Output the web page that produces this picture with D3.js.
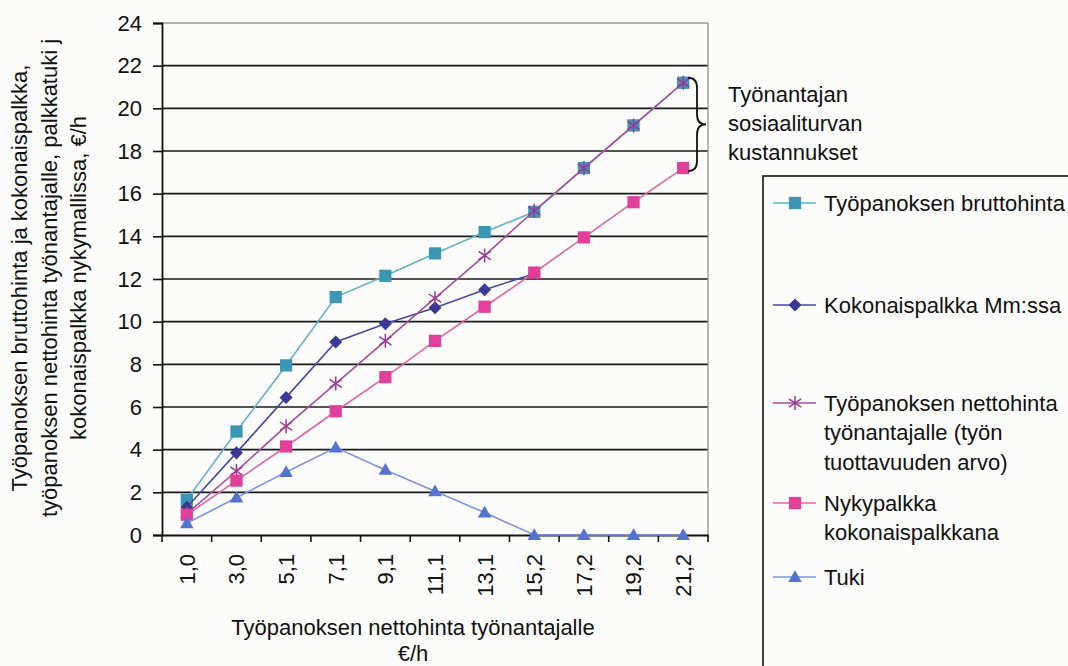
<!DOCTYPE html>
<html>
<head>
<meta charset="utf-8">
<script src="https://cdn.jsdelivr.net/npm/d3@7"></script>
<style>
  html, body { margin: 0; padding: 0; background: #fcfcfa; }
  svg { display: block; }
  text { font-family: "Liberation Sans", Arial, sans-serif; fill: #111; }
</style>
</head>
<body>
<svg id="chart" width="1068" height="666"></svg>
<script>
// ---- data ----
const categories = ["1,0", "3,0", "5,1", "7,1", "9,1", "11,1", "13,1", "15,2", "17,2", "19,2", "21,2"];
const bruttohinta = [1.65, 4.85, 7.95, 11.15, 12.15, 13.2, 14.2, 15.15, 17.2, 19.2, 21.2];
const kokonaispalkkaMm = [1.3, 3.85, 6.45, 9.05, 9.9, 10.65, 11.5, 12.25, null, null, null];
const nettohinta = [1.0, 3.0, 5.1, 7.1, 9.1, 11.1, 13.1, 15.2, 17.2, 19.2, 21.2];
const nykypalkka = [0.95, 2.55, 4.15, 5.8, 7.4, 9.1, 10.7, 12.3, 13.95, 15.6, 17.2];
const tuki = [0.55, 1.75, 2.95, 4.1, 3.05, 2.05, 1.05, 0, 0, 0, 0];
const yTicks = [0, 2, 4, 6, 8, 10, 12, 14, 16, 18, 20, 22, 24];
const seriesNames = ["Työpanoksen bruttohinta", "Kokonaispalkka Mm:ssa",
  "Työpanoksen nettohinta työnantajalle (työn tuottavuuden arvo)",
  "Nykypalkka kokonaispalkkana", "Tuki"];
const yTitleLines = ["Työpanoksen bruttohinta ja kokonaispalkka,",
  "työpanoksen nettohinta työnantajalle, palkkatuki j",
  "kokonaispalkka nykymallissa, €/h"];
const xTitleLines = ["Työpanoksen nettohinta työnantajalle", "€/h"];
const annotationLines = ["Työnantajan", "sosiaaliturvan", "kustannukset"];
const legendLines = [["Työpanoksen bruttohinta"], ["Kokonaispalkka Mm:ssa"],
  ["Työpanoksen nettohinta", "työnantajalle (työn", "tuottavuuden arvo)"],
  ["Nykypalkka", "kokonaispalkkana"], ["Tuki"]];

// ---- layout ----
const svg = d3.select("#chart");
const L = 162, R = 708, T = 23, B = 535;
const x = d3.scaleBand().domain(categories).range([L, R]).paddingInner(0).paddingOuter(0);
const y = d3.scaleLinear().domain([0, 24]).range([B, T]);
const cx = c => x(c) + x.bandwidth() / 2;
const FS = 22;

// gridlines
svg.append("g").selectAll("line").data(yTicks.filter(v => v > 0)).join("line")
  .attr("x1", L).attr("x2", R).attr("y1", d => y(d)).attr("y2", d => y(d))
  .attr("stroke", d => d === 24 ? "#666" : "#1a1a1a").attr("stroke-width", d => d === 24 ? 1.2 : 1.6);
// right border
svg.append("line").attr("x1", R).attr("x2", R).attr("y1", T).attr("y2", B)
  .attr("stroke", "#888").attr("stroke-width", 1.2);

// y axis
const yAxis = svg.append("g").attr("transform", `translate(${L},0)`)
  .call(d3.axisLeft(y).tickValues(yTicks).tickSize(9).tickPadding(11).tickFormat(d3.format("d")));
yAxis.select(".domain").attr("stroke", "#111").attr("stroke-width", 1.8);
yAxis.selectAll(".tick line").attr("stroke", "#111").attr("stroke-width", 1.6);
yAxis.selectAll("text").attr("font-size", FS).attr("font-family", "Liberation Sans, Arial, sans-serif").attr("fill", "#111");

// x axis
const xAxis = svg.append("g").attr("transform", `translate(0,${B})`)
  .call(d3.axisBottom(x).tickSize(0).tickPadding(0));
xAxis.select(".domain").attr("stroke", "#111").attr("stroke-width", 1.8);
xAxis.selectAll("text")
  .attr("font-size", FS).attr("font-family", "Liberation Sans, Arial, sans-serif").attr("fill", "#111")
  .attr("text-anchor", "end")
  .attr("transform", "rotate(-90)")
  .attr("x", -19).attr("y", 0).attr("dy", "0.36em");
// x boundary ticks
const bounds = categories.map(c => x(c)).concat([x(categories[categories.length - 1]) + x.bandwidth()]);
svg.append("g").selectAll("line").data(bounds).join("line")
  .attr("x1", d => d).attr("x2", d => d).attr("y1", B).attr("y2", B + 7)
  .attr("stroke", "#111").attr("stroke-width", 1.6);

// ---- series ----
const asteriskPath = r => `M0,${-r}L0,${r}M${-r*0.87},${-r*0.6}L${r*0.87},${r*0.6}M${-r*0.87},${r*0.6}L${r*0.87},${-r*0.6}`;
const series = [
  { name: seriesNames[0], values: bruttohinta, line: "#62b2cc", fill: "#3a96b4", shape: "square" },
  { name: seriesNames[1], values: kokonaispalkkaMm, line: "#444aa4", fill: "#363a94", shape: "diamond" },
  { name: seriesNames[2], values: nettohinta, line: "#a84ca4", fill: "#9a3a98", shape: "asterisk" },
  { name: seriesNames[3], values: nykypalkka, line: "#e264aa", fill: "#e03f9a", shape: "square" },
  { name: seriesNames[4], values: tuki, line: "#7a96e2", fill: "#5572d2", shape: "triangle" }
];
function marker(sel, s) {
  if (s.shape === "square") {
    sel.append("path").attr("d", d3.symbol(d3.symbolSquare, 150)()).attr("fill", s.fill);
  } else if (s.shape === "diamond") {
    sel.append("path").attr("d", d3.symbol(d3.symbolSquare, 85)()).attr("fill", s.fill)
      .attr("transform", "rotate(45)");
  } else if (s.shape === "triangle") {
    sel.append("path").attr("d", d3.symbol(d3.symbolTriangle, 80)()).attr("fill", s.fill)
      .attr("transform", "translate(0,1)");
  } else {
    sel.append("path").attr("d", asteriskPath(7)).attr("fill", "none")
      .attr("stroke", s.fill).attr("stroke-width", 1.5);
  }
}
const line = d3.line().defined(d => d.v !== null).x(d => cx(d.c)).y(d => y(d.v));
series.forEach(s => {
  const pts = categories.map((c, i) => ({ c, v: s.values[i] }));
  const g = svg.append("g");
  g.append("path").datum(pts).attr("d", line).attr("fill", "none")
    .attr("stroke", s.line).attr("stroke-width", 1.6);
  pts.filter(p => p.v !== null).forEach(p => {
    const m = g.append("g").attr("transform", `translate(${cx(p.c)},${y(p.v)})`);
    marker(m, s);
  });
});

// ---- brace annotation ----
const bt = y(21.2) - 5, bb = y(17.2) + 3, bm = (bt + bb) / 2, bx = 697;
svg.append("path")
  .attr("d", `M${bx-9},${bt} Q${bx},${bt} ${bx},${bt+10} L${bx},${bm-10} Q${bx},${bm} ${bx+9},${bm} Q${bx},${bm} ${bx},${bm+10} L${bx},${bb-10} Q${bx},${bb} ${bx-9},${bb}`)
  .attr("fill", "none").attr("stroke", "#111").attr("stroke-width", 1.8);
svg.append("g").selectAll("text").data(annotationLines).join("text")
  .attr("x", 728).attr("y", (d, i) => 102 + i * 29).attr("font-size", FS).text(d => d);

// ---- axis titles ----
const yt = svg.append("text").attr("transform", "translate(0,278) rotate(-90)").attr("text-anchor", "middle")
  .attr("font-size", FS);
yt.selectAll("tspan").data(yTitleLines).join("tspan")
  .attr("x", 0).attr("y", (d, i) => 27 + i * 29.5).text(d => d);
svg.append("g").selectAll("text").data(xTitleLines).join("text")
  .attr("x", 413).attr("y", (d, i) => 635 + i * 26).attr("text-anchor", "middle")
  .attr("font-size", FS).text(d => d);

// ---- legend ----
svg.append("rect").attr("x", 763).attr("y", 176).attr("width", 400).attr("height", 600)
  .attr("fill", "none").attr("stroke", "#111").attr("stroke-width", 1.6);
const legendY = [203, 305, 403, 503, 577];
series.forEach((s, i) => {
  const g = svg.append("g").attr("transform", `translate(0,${legendY[i]})`);
  g.append("line").attr("x1", 773).attr("x2", 816).attr("y1", 0).attr("y2", 0)
    .attr("stroke", s.line).attr("stroke-width", 1.6);
  const m = g.append("g").attr("transform", "translate(795,0)");
  marker(m, s);
  g.selectAll("text").data(legendLines[i]).join("text")
    .attr("x", 824).attr("y", (d, j) => 7.5 + j * 29.5).attr("font-size", FS).text(d => d);
});
</script>
</body>
</html>
